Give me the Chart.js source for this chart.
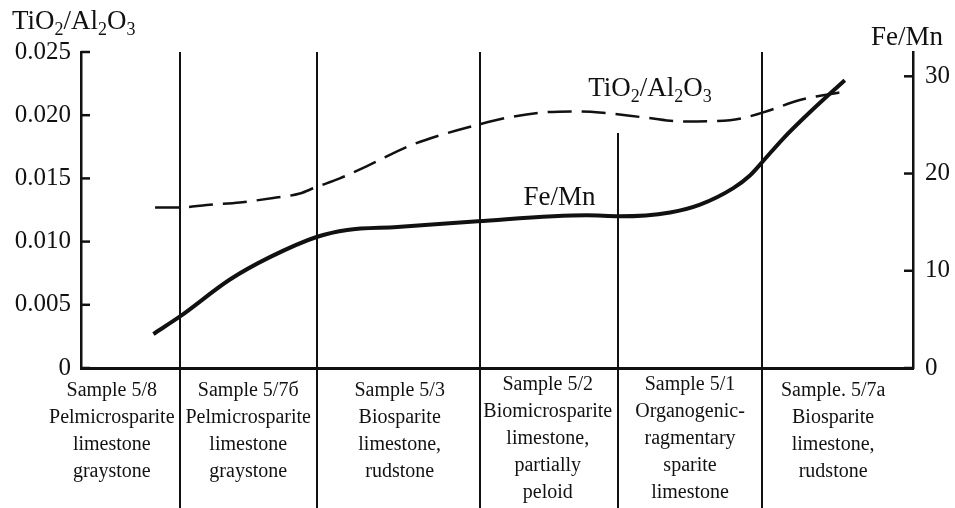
<!DOCTYPE html>
<html>
<head>
    <title>TiO2/Al2O3 and Fe/Mn</title>
    <script src="https://cdn.jsdelivr.net/npm/chart.js"></script>
    <style>
        html, body { margin: 0; padding: 0; background: #fff; }
        .chart-container { width: 955px; height: 508px; }
    </style>
</head>
<body>
<div class="chart-container">
    <canvas id="chemChart"></canvas>
</div>

<script>
    // position along the section (0..100 across the plot), value
    const tiX = [8.9, 12.0, 15.1, 19.1, 23.1, 26.3, 28.2, 31.1, 35.1, 39.2, 43.1, 48.0, 51.2, 55.2, 60.0, 62.7, 68.0, 72.4, 78.0, 81.9, 86.4, 91.2];
    const tiY = [0.0127, 0.0127, 0.0129, 0.0131, 0.01345, 0.0138, 0.0143, 0.0150, 0.0162, 0.0175, 0.0184, 0.0193, 0.0198, 0.0202, 0.0203, 0.0202, 0.0198, 0.0195, 0.0196, 0.0202, 0.0212, 0.0218];
    const feX = [8.7, 11.9, 17.9, 22.7, 28.4, 32.0, 38.0, 47.7, 60.8, 64.7, 70.8, 74.4, 78.4, 80.4, 81.9, 84.4, 87.6, 91.8];
    const feY = [3.5, 5.3, 9.1, 11.4, 13.5, 14.2, 14.5, 15.1, 15.7, 15.6, 16.0, 16.8, 18.5, 19.8, 21.2, 23.6, 26.3, 29.6];

    const leftTicks = [0, 0.005, 0.010, 0.015, 0.020, 0.025];
    const rightTicks = [0, 10, 20, 30];

    const catLabels = [
        ['Sample 5/8', 'Pelmicrosparite', 'limestone', 'graystone'],
        ['Sample 5/7б', 'Pelmicrosparite', 'limestone', 'graystone'],
        ['Sample 5/3', 'Biosparite', 'limestone,', 'rudstone'],
        ['Sample 5/2', 'Biomicrosparite', 'limestone,', 'partially', 'peloid'],
        ['Sample 5/1', 'Organogenic-', 'ragmentary', 'sparite', 'limestone'],
        ['Sample. 5/7a', 'Biosparite', 'limestone,', 'rudstone']
    ];
    const catCenters = [3.7, 20.1, 38.3, 56.1, 73.2, 90.4];
    const dividers = [11.9, 28.4, 48.0, 64.5, 81.9];
    const dividerTops = [0.025, 0.025, 0.025, 0.0186, 0.025];

    const SERIF = '"Liberation Serif", "DejaVu Serif", serif';
    const INK = '#111';

    function toPts(xs, ys) {
        return xs.map((x, i) => ({ x: x, y: ys[i] }));
    }

    // text with subscripts: parts = [[text, isSub], ...]
    function chemText(ctx, parts, x, y, size, align) {
        const sub = Math.round(size * 0.68);
        let w = 0;
        parts.forEach(p => {
            ctx.font = (p[1] ? sub : size) + 'px ' + SERIF;
            w += ctx.measureText(p[0]).width;
        });
        let cx = align === 'center' ? x - w / 2 : x;
        ctx.textAlign = 'left';
        ctx.textBaseline = 'alphabetic';
        parts.forEach(p => {
            ctx.font = (p[1] ? sub : size) + 'px ' + SERIF;
            ctx.fillText(p[0], cx, y + (p[1] ? size * 0.22 : 0));
            cx += ctx.measureText(p[0]).width;
        });
    }

    const tiParts = [['TiO', 0], ['2', 1], ['/Al', 0], ['2', 1], ['O', 0], ['3', 1]];

    const decor = {
        id: 'decor',
        afterDraw(chart) {
            const ctx = chart.ctx;
            const xs = chart.scales.x, yl = chart.scales.y, yr = chart.scales.y1;
            const area = chart.chartArea;
            ctx.save();
            ctx.strokeStyle = INK;
            ctx.fillStyle = INK;

            // section dividers
            ctx.lineWidth = 2;
            dividers.forEach((d, i) => {
                const px = Math.round(xs.getPixelForValue(d));
                ctx.beginPath();
                ctx.moveTo(px, yl.getPixelForValue(dividerTops[i]));
                ctx.lineTo(px, chart.height);
                ctx.stroke();
            });

            // inward ticks
            ctx.lineWidth = 2.5;
            leftTicks.forEach(v => {
                const py = yl.getPixelForValue(v);
                ctx.beginPath();
                ctx.moveTo(area.left, py);
                ctx.lineTo(area.left + 9, py);
                ctx.stroke();
            });
            rightTicks.forEach(v => {
                const py = yr.getPixelForValue(v);
                ctx.beginPath();
                ctx.moveTo(area.right, py);
                ctx.lineTo(area.right - 9, py);
                ctx.stroke();
            });

            // category labels
            ctx.font = '20px ' + SERIF;
            ctx.textAlign = 'center';
            ctx.textBaseline = 'middle';
            catLabels.forEach((lines, i) => {
                const cx = xs.getPixelForValue(catCenters[i]);
                const y0 = lines.length > 4 ? 385 : 391;
                lines.forEach((t, j) => ctx.fillText(t, cx, y0 + j * 27));
            });

            // axis titles
            chemText(ctx, tiParts, 12, 29, 27, 'left');
            ctx.font = '27px ' + SERIF;
            ctx.textAlign = 'left';
            ctx.textBaseline = 'alphabetic';
            ctx.fillText('Fe/Mn', 871, 45);

            // series labels
            chemText(ctx, tiParts, xs.getPixelForValue(68.4), yl.getPixelForValue(0.0215), 27, 'center');
            ctx.font = '27px ' + SERIF;
            ctx.textAlign = 'center';
            ctx.fillText('Fe/Mn', xs.getPixelForValue(57.5), yr.getPixelForValue(16.8));
            ctx.restore();
        }
    };

    const ctx = document.getElementById('chemChart').getContext('2d');
    const chart = new Chart(ctx, {
        type: 'scatter',
        data: {
            datasets: [
                {
                    label: 'TiO2/Al2O3',
                    data: toPts(tiX, tiY),
                    showLine: true,
                    borderColor: INK,
                    borderWidth: 2.5,
                    borderDash: [24, 10],
                    pointRadius: 0,
                    cubicInterpolationMode: 'monotone',
                    yAxisID: 'y'
                },
                {
                    label: 'Fe/Mn',
                    data: toPts(feX, feY),
                    showLine: true,
                    borderColor: INK,
                    borderWidth: 4,
                    pointRadius: 0,
                    cubicInterpolationMode: 'monotone',
                    yAxisID: 'y1'
                }
            ]
        },
        options: {
            responsive: true,
            maintainAspectRatio: false,
            animation: false,
            events: [],
            layout: { padding: { top: 52, left: 0, right: 0, bottom: 0 } },
            plugins: {
                legend: { display: false },
                tooltip: { enabled: false }
            },
            scales: {
                x: {
                    type: 'linear',
                    min: 0,
                    max: 100,
                    ticks: { display: false },
                    grid: { display: false },
                    border: { color: INK, width: 3 },
                    afterFit: s => { s.height = 140; }
                },
                y: {
                    position: 'left',
                    min: 0,
                    max: 0.025,
                    afterBuildTicks: s => { s.ticks = leftTicks.map(v => ({ value: v })); },
                    ticks: {
                        color: INK,
                        padding: 10,
                        font: { family: SERIF, size: 25 },
                        callback: v => v === 0 ? '0' : v.toFixed(3)
                    },
                    grid: { drawOnChartArea: false, drawTicks: false },
                    border: { color: INK, width: 2.5 },
                    afterFit: s => { s.width = 81; }
                },
                y1: {
                    position: 'right',
                    min: 0,
                    max: 32.5,
                    afterBuildTicks: s => { s.ticks = rightTicks.map(v => ({ value: v })); },
                    ticks: {
                        color: INK,
                        padding: 12,
                        font: { family: SERIF, size: 25 },
                        callback: v => String(v)
                    },
                    grid: { drawOnChartArea: false, drawTicks: false },
                    border: { color: INK, width: 2.5 },
                    afterFit: s => { s.width = 42; }
                }
            }
        },
        plugins: [decor]
    });
</script>
</body>
</html>
